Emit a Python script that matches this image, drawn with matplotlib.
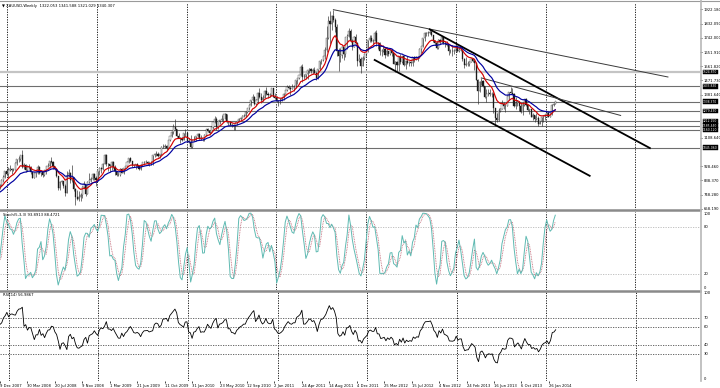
import numpy as np
import pandas as pd
import matplotlib
matplotlib.use('Agg')
import matplotlib.pyplot as plt

ANCHO, ALTO = 720, 388

#* Historial previo (fuera de la vista, solo para calentar los indicadores)
pre_cierres = [672, 672, 663, 670, 673, 702, 712, 735, 743, 737, 753, 763, 785, 807, 832, 787, 822, 783, 803]
pre_maximos = [683, 683, 678, 672, 675, 705, 721, 736, 745, 746, 755, 772, 786, 809, 845, 830, 842, 826, 808]
pre_minimos = [658, 660, 642, 658, 659, 670, 700, 708, 728, 728, 732, 752, 757, 778, 806, 780, 783, 775, 781]

#* Velas semanales XAUUSD desde 9 Dec 2007
cierres = [
    797, 807, 842, 862,
    897, 881, 905, 910, 907, 906, 946, 972, 975, 997, 920, 934, 905, 925, 923, 891, 853, 885, 884, 924, 886, 898,
    871, 903, 928, 930, 960, 957, 928, 912, 865, 787, 827, 832, 803, 760, 865, 888, 843, 857, 785, 730, 723, 734,
    743, 795, 815, 752, 825, 838, 848, 880,
    855, 838, 898, 919, 913, 944, 1002, 942, 941, 929, 953, 924, 897, 870, 869, 913, 884, 915, 929, 956, 980, 962,
    937, 933, 939, 931, 911, 938, 953, 954, 956, 948, 952, 955, 996, 1007, 1004, 990, 1004, 1049, 1051, 1056, 1045,
    1095, 1118, 1142, 1176, 1162, 1119, 1109, 1104, 1096,
    1138, 1140, 1089, 1084, 1050, 1092, 1096, 1119, 1134, 1102, 1106, 1104, 1125, 1161, 1149, 1141, 1179, 1209, 1227,
    1178, 1213, 1218, 1229, 1256, 1256, 1210, 1211, 1190, 1188, 1181, 1204, 1215, 1228, 1234, 1246, 1246, 1274, 1297,
    1318, 1346, 1369, 1325, 1350, 1394, 1366, 1350, 1363, 1406, 1385, 1379, 1380, 1421,
    1369, 1360, 1343, 1341, 1349, 1361, 1388, 1410, 1430, 1421, 1418, 1429, 1429, 1474, 1486, 1504, 1556, 1491, 1492,
    1511, 1536, 1542, 1530, 1539, 1522, 1486, 1542, 1594, 1601, 1624, 1663, 1744, 1852, 1828, 1878, 1856, 1812, 1657,
    1624, 1636, 1682, 1642, 1745, 1755, 1788, 1725, 1685, 1746, 1711, 1598, 1606, 1566,
    1617, 1640, 1664, 1726, 1739, 1725, 1725, 1776, 1710, 1709, 1656, 1662, 1669, 1631, 1659, 1642, 1663, 1645, 1579,
    1592, 1572, 1622, 1590, 1628, 1571, 1598, 1581, 1590, 1583, 1619, 1606, 1620, 1616, 1671, 1691, 1740, 1771, 1773,
    1774, 1780, 1758, 1724, 1711, 1676, 1731, 1714, 1750, 1712, 1705, 1696, 1658, 1657, 1656,
    1661, 1687, 1660, 1667, 1667, 1609, 1572, 1576, 1577, 1592, 1607, 1596, 1581, 1476, 1405, 1462, 1470, 1436, 1365,
    1386, 1392, 1383, 1386, 1297, 1234, 1223, 1278, 1294, 1322, 1310, 1313, 1376, 1396, 1395, 1387, 1308, 1326, 1338,
    1310, 1272, 1314, 1352, 1315, 1287, 1288, 1243, 1250, 1230, 1235, 1196, 1212, 1237,
    1249, 1254, 1264, 1240, 1262, 1318, 1322, 1340.307]
maximos = [
    835, 812, 845, 870,
    900, 914, 926, 934, 916, 919, 954, 976, 992, 1002, 1033, 951, 940, 934, 945, 927, 892, 890, 890, 935, 927, 905,
    898, 905, 932, 946, 964, 988, 958, 932, 915, 865, 835, 841, 835, 812, 900, 912, 892, 935, 860, 790, 776, 770,
    755, 801, 832, 818, 835, 884, 859, 884,
    882, 865, 900, 920, 925, 949, 1007, 1003, 948, 944, 962, 960, 934, 899, 892, 915, 915, 917, 932, 959, 982, 989,
    964, 940, 943, 946, 932, 940, 956, 960, 970, 962, 955, 962, 1000, 1011, 1025, 1015, 1007, 1058, 1070, 1070, 1062,
    1096, 1120, 1150, 1195, 1226, 1166, 1140, 1114, 1112,
    1140, 1161, 1144, 1104, 1123, 1095, 1122, 1122, 1140, 1136, 1126, 1110, 1130, 1165, 1170, 1152, 1180, 1211, 1249,
    1237, 1215, 1220, 1251, 1262, 1265, 1262, 1216, 1215, 1200, 1195, 1206, 1216, 1232, 1240, 1255, 1259, 1276, 1298,
    1320, 1348, 1388, 1376, 1352, 1398, 1424, 1390, 1378, 1410, 1432, 1397, 1392, 1424,
    1423, 1390, 1376, 1350, 1359, 1368, 1391, 1414, 1440, 1445, 1434, 1447, 1440, 1475, 1487, 1509, 1570, 1577, 1515,
    1514, 1539, 1549, 1550, 1549, 1556, 1528, 1545, 1596, 1610, 1628, 1682, 1815, 1880, 1913, 1885, 1921, 1870, 1832,
    1678, 1680, 1692, 1686, 1747, 1764, 1802, 1796, 1732, 1757, 1764, 1716, 1643, 1623,
    1630, 1648, 1669, 1731, 1763, 1761, 1737, 1783, 1792, 1715, 1714, 1670, 1697, 1680, 1682, 1661, 1666, 1670, 1645,
    1598, 1597, 1625, 1640, 1630, 1631, 1604, 1627, 1596, 1596, 1623, 1627, 1624, 1628, 1675, 1693, 1741, 1777, 1779,
    1787, 1796, 1790, 1760, 1730, 1720, 1738, 1738, 1755, 1754, 1722, 1724, 1698, 1673, 1694,
    1673, 1695, 1697, 1684, 1684, 1672, 1612, 1619, 1597, 1595, 1616, 1616, 1605, 1590, 1480, 1469, 1488, 1477, 1438,
    1417, 1415, 1417, 1396, 1396, 1300, 1268, 1298, 1299, 1349, 1337, 1324, 1377, 1397, 1433, 1424, 1392, 1370, 1347,
    1341, 1327, 1326, 1355, 1361, 1325, 1292, 1291, 1265, 1255, 1267, 1245, 1215, 1238,
    1250, 1256, 1270, 1280, 1268, 1320, 1332, 1341.588]
minimos = [
    793, 785, 805, 830,
    852, 875, 850, 900, 880, 898, 905, 935, 955, 963, 915, 908, 890, 900, 912, 880, 850, 852, 860, 880, 876, 866,
    860, 866, 880, 920, 918, 950, 912, 906, 858, 775, 774, 817, 787, 741, 758, 860, 821, 825, 773, 681, 711, 710,
    705, 728, 790, 740, 752, 820, 830, 843,
    840, 805, 832, 875, 888, 901, 940, 932, 900, 890, 906, 917, 875, 864, 865, 866, 882, 880, 908, 920, 948, 955,
    925, 920, 910, 922, 904, 907, 932, 938, 950, 935, 929, 936, 936, 987, 995, 985, 982, 1000, 1041, 1043, 1025,
    1043, 1088, 1112, 1130, 1160, 1115, 1106, 1075, 1090,
    1095, 1122, 1088, 1076, 1044, 1045, 1088, 1086, 1115, 1100, 1097, 1087, 1091, 1120, 1145, 1125, 1139, 1165, 1199,
    1157, 1166, 1195, 1213, 1211, 1228, 1200, 1191, 1188, 1176, 1156, 1157, 1192, 1212, 1221, 1232, 1240, 1243, 1266,
    1286, 1310, 1340, 1318, 1316, 1329, 1362, 1330, 1340, 1358, 1378, 1361, 1365, 1375,
    1364, 1354, 1338, 1309, 1324, 1344, 1350, 1385, 1407, 1415, 1381, 1417, 1406, 1422, 1452, 1480, 1499, 1462, 1480,
    1480, 1481, 1522, 1522, 1515, 1517, 1478, 1483, 1540, 1578, 1595, 1610, 1655, 1732, 1702, 1792, 1840, 1780, 1625,
    1534, 1590, 1615, 1604, 1618, 1674, 1750, 1716, 1667, 1682, 1702, 1565, 1587, 1522,
    1563, 1600, 1626, 1651, 1718, 1713, 1705, 1723, 1688, 1673, 1635, 1627, 1653, 1612, 1626, 1627, 1635, 1630, 1576,
    1527, 1532, 1535, 1579, 1581, 1562, 1547, 1576, 1563, 1565, 1562, 1590, 1601, 1597, 1614, 1649, 1684, 1722, 1752,
    1752, 1766, 1753, 1718, 1700, 1672, 1672, 1705, 1711, 1705, 1686, 1690, 1635, 1649, 1626,
    1643, 1655, 1655, 1651, 1656, 1598, 1554, 1565, 1562, 1565, 1589, 1590, 1539, 1473, 1321, 1397, 1440, 1428, 1359,
    1338, 1375, 1375, 1366, 1268, 1180, 1207, 1216, 1271, 1290, 1292, 1271, 1312, 1348, 1394, 1385, 1305, 1292, 1311,
    1277, 1266, 1251, 1310, 1310, 1277, 1261, 1240, 1220, 1211, 1221, 1186, 1195, 1182,
    1211, 1222, 1237, 1238, 1239, 1255, 1310, 1321.029]

fechas_etiquetas = ['9 Dec 2007', '30 Mar 2008', '20 Jul 2008', '9 Nov 2008', '1 Mar 2009', '21 Jun 2009',
                    '11 Oct 2009', '31 Jan 2010', '23 May 2010', '12 Sep 2010', '2 Jan 2011', '24 Apr 2011',
                    '14 Aug 2011', '4 Dec 2011', '25 Mar 2012', '15 Jul 2012', '4 Nov 2012', '24 Feb 2013',
                    '16 Jun 2013', '6 Oct 2013', '26 Jan 2014']
barras_etiquetas = list(range(0, 321, 16))

#* Etiquetas de precio visibles (las demas quedan tapadas por las cajas negras)
precio_etiquetas = [1922.180, 1832.090, 1742.000, 1651.910, 1561.820, 1471.730, 1381.640,
                    1108.640, 928.460, 838.370, 748.280, 658.190]

#* Niveles horizontales dibujados
niveles = [1524.870, 1433.830, 1338.370, 1279.430, 1212.150, 1185.440, 1160.120, 1045.060]
niveles_claros = [1524.870]

#* Lineas de tendencia: (barra1, precio1), (barra2, precio2), grosor
lineas_tendencia = [((195, 1921.0), (389.5, 1494.0), 'fina'),
                    ((251, 1796.0), (379, 1043.0), 'gruesa'),
                    ((219, 1602.0), (344, 867.0), 'gruesa'),
                    ((281, 1488.0), (362, 1250.0), 'fina')]

titulo = 'XAUUSD,Weekly  1322.053 1341.588 1321.029 1340.307'
titulo_stoch = 'Stoch(5,3,3) 93.8913 88.4721'
titulo_rsi = 'RSI(14) 56.9867'

FS = 2.7  # letra diminuta tipo MT4


#* Funcion para ubicar ejes en pixeles
def ejes_px(fig, x0, y0, x1, y1):
    ax = fig.add_axes([x0 / ANCHO, 1 - y1 / ALTO, (x1 - x0) / ANCHO, (y1 - y0) / ALTO])
    ax.patch.set_alpha(0)
    for s in ax.spines.values():
        s.set_visible(False)
    ax.set_xticks([])
    ax.set_yticks([])
    return ax


def px_a_barra(x):
    return (x + 2) / 1.72


#* Indicadores
def estocastico(c, h, l, k=5, d=3, s=3):
    c, h, l = pd.Series(c), pd.Series(h), pd.Series(l)
    ll = l.rolling(k).min()
    hh = h.rolling(k).max()
    principal = 100 * (c - ll).rolling(s).sum() / (hh - ll).rolling(s).sum()
    senal = principal.rolling(d).mean()
    return principal.values, senal.values


def rsi(c, n=14):
    c = pd.Series(c)
    delta = c.diff().fillna(0)
    sube = delta.clip(lower=0).ewm(alpha=1 / n, adjust=False).mean()
    baja = (-delta).clip(lower=0).ewm(alpha=1 / n, adjust=False).mean()
    return (100 - 100 / (1 + sube / baja)).values


c_tot = np.array(pre_cierres + cierres, dtype=float)
h_tot = np.array(pre_maximos + maximos, dtype=float)
l_tot = np.array(pre_minimos + minimos, dtype=float)
npre = len(pre_cierres)
x_tot = np.arange(len(c_tot)) - npre
o_tot = np.r_[c_tot[0], c_tot[:-1]]
o_tot[-1] = 1322.053

ma_roja = pd.Series(c_tot).ewm(span=10, adjust=False).mean().values
ma_azul = pd.Series(c_tot).ewm(span=20, adjust=False).mean().values
st_k, st_d = estocastico(c_tot, h_tot, l_tot)
r = rsi(c_tot)

fig = plt.figure(figsize=(ANCHO / 100, ALTO / 100), dpi=100)
fig.patch.set_facecolor('white')

xlim = (px_a_barra(0), px_a_barra(700))
rejilla = np.arange(5.2, xlim[1], 52.2)

#* Panel de precio
ax = ejes_px(fig, 0, 3, 700, 210)
ax.set_xlim(*xlim)
ax.set_ylim(650.1, 1963.4)
for g in rejilla:
    ax.axvline(g, color='black', lw=0.6, ls=(0, (1.5, 1.5)), zorder=1)
for nv in niveles:
    if nv in niveles_claros:
        ax.axhline(nv, color='#c4c4c4', lw=1.6, zorder=1)
    else:
        ax.axhline(nv, color='#6e6e6e', lw=0.8, zorder=1)
    ax.text(1 + 3 / 700, nv, f'{nv:.3f}', transform=ax.get_yaxis_transform(), fontsize=2.2,
            color='white', va='center', ha='left', zorder=10, clip_on=False,
            bbox=dict(boxstyle='square,pad=0.1', fc='black', ec='black', lw=0.3))
for (b1, p1), (b2, p2), tipo in lineas_tendencia:
    if tipo == 'gruesa':
        ax.plot([b1, b2], [p1, p2], color='black', lw=1.3, zorder=4)
    else:
        ax.plot([b1, b2], [p1, p2], color='#3a3a3a', lw=0.7, zorder=4)

sube = c_tot >= o_tot
ax.vlines(x_tot, l_tot, h_tot, color='#2a2a2a', lw=0.45, zorder=2)
ax.bar(x_tot[sube], (c_tot - o_tot)[sube], bottom=o_tot[sube], width=0.65, color='white',
       edgecolor='#2a2a2a', linewidth=0.25, zorder=3)
ax.bar(x_tot[~sube], (o_tot - c_tot)[~sube], bottom=c_tot[~sube], width=0.65, color='#1a1a1a',
       edgecolor='#1a1a1a', linewidth=0.25, zorder=3)
ax.plot(x_tot, ma_roja, color='#d40000', lw=0.85, zorder=5)
ax.plot(x_tot, ma_azul, color='#0000a0', lw=0.85, zorder=5)

ax.yaxis.tick_right()
ax.set_yticks(precio_etiquetas)
ax.set_yticklabels([f'{p:.3f}' for p in precio_etiquetas])
ax.tick_params(axis='y', length=1.5, width=0.5, pad=1, labelsize=FS)
fig.text(2 / ANCHO, 1 - 4 / ALTO, '\u25bc ' + titulo, fontsize=FS, va='top', ha='left')

#* Panel estocastico
ax2 = ejes_px(fig, 0, 211.7, 700, 289.6)
ax2.set_xlim(*xlim)
ax2.set_ylim(0, 100)
for g in rejilla:
    ax2.axvline(g, color='black', lw=0.6, ls=(0, (1.5, 1.5)), zorder=1)
for nv in [80, 20]:
    ax2.axhline(nv, color='#b8b8b8', lw=0.6, ls=(0, (1.5, 1.5)), zorder=1)
ax2.plot(x_tot, st_k, color='#5fbab2', lw=0.7, zorder=3)
ax2.plot(x_tot, st_d, color='#c06070', lw=0.6, ls=(0, (1, 1)), zorder=2)
ax2.text(3 / 700, 0.98, titulo_stoch, transform=ax2.transAxes, fontsize=FS, va='top')
for v, txt, va in [(100, '100', 'top'), (80, '80', 'center'), (20, '20', 'center'), (0, '0', 'bottom')]:
    ax2.text(1 + 4 / 700, v, txt, transform=ax2.get_yaxis_transform(), fontsize=FS, va=va, clip_on=False)

#* Panel RSI
ax3 = ejes_px(fig, 0, 291.5, 700, 381)
ax3.set_xlim(*xlim)
ax3.set_ylim(0, 100)
for g in rejilla:
    ax3.axvline(g, color='black', lw=0.6, ls=(0, (1.5, 1.5)), zorder=1)
for nv in [70, 60, 40, 30]:
    ax3.axhline(nv, color='#505050', lw=0.6, ls=(0, (1.5, 1.5)), zorder=1)
ax3.plot(x_tot, r, color='black', lw=0.6, zorder=3)
ax3.text(3 / 700, 0.985, titulo_rsi, transform=ax3.transAxes, fontsize=FS, va='top')
for v, txt, va in [(100, '100', 'top'), (70, '70', 'center'), (60, '60', 'center'),
                   (40, '40', 'center'), (30, '30', 'center'), (0, '0', 'bottom')]:
    ax3.text(1 + 4 / 700, v, txt, transform=ax3.get_yaxis_transform(), fontsize=FS, va=va, clip_on=False)

ax3.set_xticks(barras_etiquetas)
ax3.set_xticklabels(fechas_etiquetas)
ax3.tick_params(axis='x', length=1.5, width=0.5, pad=0.8, labelsize=FS)
for lbl in ax3.get_xticklabels():
    lbl.set_horizontalalignment('left')

#* Bordes y separadores
lineas_fig = [((0, 720), (0.8, 0.8), '#9a9a9a', 0.8),
              ((0, 700), (210.5, 210.5), '#8a8a8a', 1.8),
              ((0, 700), (290.5, 290.5), '#8a8a8a', 1.8),
              ((700.5, 700.5), (0, 381), '#b8b8b8', 1.2)]
for xs, ys, col, lw in lineas_fig:
    fig.add_artist(plt.Line2D([x / ANCHO for x in xs], [1 - y / ALTO for y in ys], color=col, lw=lw))

plt.savefig('out.png', dpi=100)
